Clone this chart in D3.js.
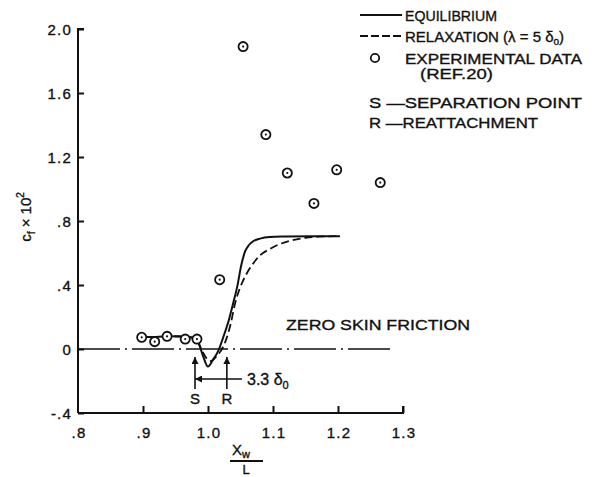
<!DOCTYPE html>
<html>
<head>
<meta charset="utf-8">
<script src="https://cdn.jsdelivr.net/npm/d3@7"></script>
<style>
  html, body { margin: 0; padding: 0; background: #fff; }
  svg { display: block; }
  text { font-family: "Liberation Sans", Arial, sans-serif; fill: #111; stroke: #111; stroke-width: 0.35px; }
</style>
</head>
<body>
<svg id="chart" width="595" height="477"></svg>
<script>
// Skin-friction coefficient (cf x 10^2) against x_w / L

// Experimental data (Ref. 20)
const expX = [0.898, 0.918, 0.937, 0.965, 0.983, 1.018, 1.054, 1.089, 1.122, 1.163, 1.198, 1.265];
const expY = [0.073, 0.046, 0.079, 0.062, 0.062, 0.433, 1.89, 1.34, 1.10, 0.91, 1.12, 1.04];

// Equilibrium solution
const eqX = [0.893, 0.92, 0.94, 0.96, 0.975, 0.984, 0.992, 1.0, 1.008, 1.016, 1.024, 1.032, 1.039, 1.045, 1.051, 1.057, 1.063, 1.07, 1.08, 1.095, 1.12, 1.16, 1.203];
const eqY = [0.075, 0.075, 0.08, 0.078, 0.072, 0.05, -0.04, -0.11, -0.065, -0.01, 0.08, 0.18, 0.29, 0.39, 0.52, 0.61, 0.65, 0.675, 0.69, 0.70, 0.703, 0.705, 0.705];

// Relaxation solution (lambda = 5 delta_0)
const relX = [0.893, 0.92, 0.94, 0.96, 0.975, 0.984, 0.992, 0.998, 1.004, 1.012, 1.02, 1.028, 1.035, 1.042, 1.05, 1.058, 1.067, 1.08, 1.095, 1.11, 1.13, 1.15, 1.17, 1.2];
const relY = [0.075, 0.075, 0.08, 0.078, 0.072, 0.045, -0.02, -0.06, -0.075, -0.05, -0.01, 0.06, 0.16, 0.29, 0.39, 0.46, 0.52, 0.585, 0.625, 0.655, 0.68, 0.695, 0.702, 0.705];

// Axis ticks
const xTicks = [0.8, 0.9, 1.0, 1.1, 1.2, 1.3];
const xTickLabels = [".8", ".9", "1.0", "1.1", "1.2", "1.3"];
const yTicks = [-0.4, 0, 0.4, 0.8, 1.2, 1.6, 2.0];
const yTickLabels = ["-.4", "0", ".4", ".8", "1.2", "1.6", "2.0"];

// Separation / reattachment stations
const sepX = 0.98;
const reatX = 1.029;

const svg = d3.select("#chart");
const x = d3.scaleLinear().domain([0.8, 1.3]).range([78, 403]);
const y = d3.scaleLinear().domain([-0.4, 2.0]).range([413, 29]);
const ink = "#111";

// Axes
const yAxis = d3.axisRight(y).tickValues(yTicks).tickSize(6).tickFormat("");
const gy = svg.append("g").attr("transform", `translate(${x(0.8)},0)`).call(yAxis);
gy.select(".domain").attr("d", `M6,${y(2.0)}H0V${y(-0.4)}`);
const xAxis = d3.axisTop(x).tickValues(xTicks.slice(1)).tickSize(7).tickFormat("");
const gx = svg.append("g").attr("transform", `translate(0,${y(-0.4)})`).call(xAxis);
gx.select(".domain").attr("d", `M${x(0.8)},0H${x(1.3)}V-7`);
svg.selectAll(".domain, .tick line").attr("stroke", ink).attr("stroke-width", 2);

// Tick labels
svg.append("g").selectAll("text").data(yTicks).join("text")
  .attr("x", 72).attr("y", d => y(d) + 5.5)
  .attr("text-anchor", "end").attr("font-size", 15).attr("letter-spacing", 1.2)
  .text((d, i) => yTickLabels[i]);
svg.append("g").selectAll("text").data(xTicks).join("text")
  .attr("x", d => x(d) + 1).attr("y", 438)
  .attr("text-anchor", "middle").attr("font-size", 15).attr("letter-spacing", 1.2)
  .text((d, i) => xTickLabels[i]);

// Axis titles
const yl = svg.append("text")
  .attr("transform", "translate(31,217) rotate(-90)")
  .attr("text-anchor", "middle").attr("font-size", 15);
yl.append("tspan").text("c");
yl.append("tspan").attr("font-size", 10).attr("dy", 4).text("f");
yl.append("tspan").attr("dy", -4).text(" \u00d7 10");
yl.append("tspan").attr("font-size", 10).attr("dy", -7).text("2");

const xl = svg.append("text").attr("x", 232).attr("y", 455).attr("font-size", 15);
xl.append("tspan").text("X");
xl.append("tspan").attr("font-size", 11).attr("dy", 3).text("w");
svg.append("line").attr("x1", 230).attr("x2", 263).attr("y1", 461).attr("y2", 461)
  .attr("stroke", ink).attr("stroke-width", 2);
svg.append("text").attr("x", 246).attr("y", 474).attr("text-anchor", "middle")
  .attr("font-size", 13).text("L");

// Zero skin friction line
svg.append("line")
  .attr("x1", x(0.8)).attr("x2", 392).attr("y1", y(0)).attr("y2", y(0))
  .attr("stroke", ink).attr("stroke-width", 1.6)
  .attr("stroke-dasharray", "42,5,2,5");
svg.append("text").attr("x", 286).attr("y", 330).attr("font-size", 15)
  .attr("textLength", 184).attr("lengthAdjust", "spacingAndGlyphs")
  .text("ZERO SKIN FRICTION");

// Solution curves
const line = d3.line().x(d => x(d[0])).y(d => y(d[1])).curve(d3.curveMonotoneX);
svg.append("path").datum(d3.zip(relX, relY)).attr("d", line)
  .attr("fill", "none").attr("stroke", ink).attr("stroke-width", 1.8)
  .attr("stroke-dasharray", "8,4");
svg.append("path").datum(d3.zip(eqX, eqY)).attr("d", line)
  .attr("fill", "none").attr("stroke", ink).attr("stroke-width", 2);

// Experimental points (open circle with centre dot)
const pts = svg.append("g").selectAll("g").data(d3.zip(expX, expY)).join("g")
  .attr("transform", d => `translate(${x(d[0])},${y(d[1])})`);
pts.append("circle").attr("r", 4.6).attr("fill", "#fff")
  .attr("stroke", ink).attr("stroke-width", 1.8);
pts.append("circle").attr("r", 1.1).attr("fill", ink);

// Separation / reattachment arrows
const defs = svg.append("defs");
defs.append("marker").attr("id", "head").attr("viewBox", "0 0 10 10")
  .attr("refX", 10).attr("refY", 5).attr("markerWidth", 7).attr("markerHeight", 7)
  .attr("markerUnits", "userSpaceOnUse").attr("orient", "auto")
  .append("path").attr("d", "M0,0L10,5L0,10Z").attr("fill", ink);
[sepX, reatX].forEach(v => {
  svg.append("line").attr("x1", x(v)).attr("x2", x(v)).attr("y1", 389).attr("y2", 357)
    .attr("stroke", ink).attr("stroke-width", 1.6).attr("marker-end", "url(#head)");
});
svg.append("line").attr("x1", x(reatX)).attr("x2", x(sepX)).attr("y1", 379).attr("y2", 379)
  .attr("stroke", ink).attr("stroke-width", 1.5).attr("marker-end", "url(#head)");
svg.append("line").attr("x1", x(reatX)).attr("x2", 242).attr("y1", 379).attr("y2", 379)
  .attr("stroke", ink).attr("stroke-width", 1.5);
const dim = svg.append("text").attr("x", 247).attr("y", 385).attr("font-size", 16);
dim.append("tspan").text("3.3 \u03b4");
dim.append("tspan").attr("font-size", 11).attr("dy", 4).text("0");
svg.append("text").attr("x", x(sepX)).attr("y", 404).attr("text-anchor", "middle")
  .attr("font-size", 15).text("S");
svg.append("text").attr("x", x(reatX)).attr("y", 404).attr("text-anchor", "middle")
  .attr("font-size", 15).text("R");

// Legend
const lg = svg.append("g");
lg.append("line").attr("x1", 360).attr("x2", 402).attr("y1", 15).attr("y2", 15)
  .attr("stroke", ink).attr("stroke-width", 2);
lg.append("text").attr("x", 405).attr("y", 20.5).attr("font-size", 15)
  .attr("textLength", 92).attr("lengthAdjust", "spacingAndGlyphs").text("EQUILIBRIUM");
lg.append("line").attr("x1", 360).attr("x2", 402).attr("y1", 36).attr("y2", 36)
  .attr("stroke", ink).attr("stroke-width", 1.8).attr("stroke-dasharray", "8,3");
const rt = lg.append("text").attr("x", 405).attr("y", 41.5).attr("font-size", 15);
rt.append("tspan").text("RELAXATION (\u03bb = 5 \u03b4");
rt.append("tspan").attr("font-size", 10).attr("dy", 3).text("o");
rt.append("tspan").attr("dy", -3).text(")");
lg.append("circle").attr("cx", 375).attr("cy", 58).attr("r", 4.2).attr("fill", "none")
  .attr("stroke", ink).attr("stroke-width", 1.8);
lg.append("text").attr("x", 405).attr("y", 63.5).attr("font-size", 15)
  .attr("textLength", 177).attr("lengthAdjust", "spacingAndGlyphs").text("EXPERIMENTAL DATA");
lg.append("text").attr("x", 420).attr("y", 79).attr("font-size", 15)
  .attr("textLength", 73).attr("lengthAdjust", "spacingAndGlyphs").text("(REF.20)");
lg.append("text").attr("x", 369).attr("y", 107.5).attr("font-size", 15)
  .attr("textLength", 213).attr("lengthAdjust", "spacingAndGlyphs").text("S \u2014SEPARATION POINT");
lg.append("text").attr("x", 369).attr("y", 127.5).attr("font-size", 15)
  .attr("textLength", 169).attr("lengthAdjust", "spacingAndGlyphs").text("R \u2014REATTACHMENT");
</script>
</body>
</html>
